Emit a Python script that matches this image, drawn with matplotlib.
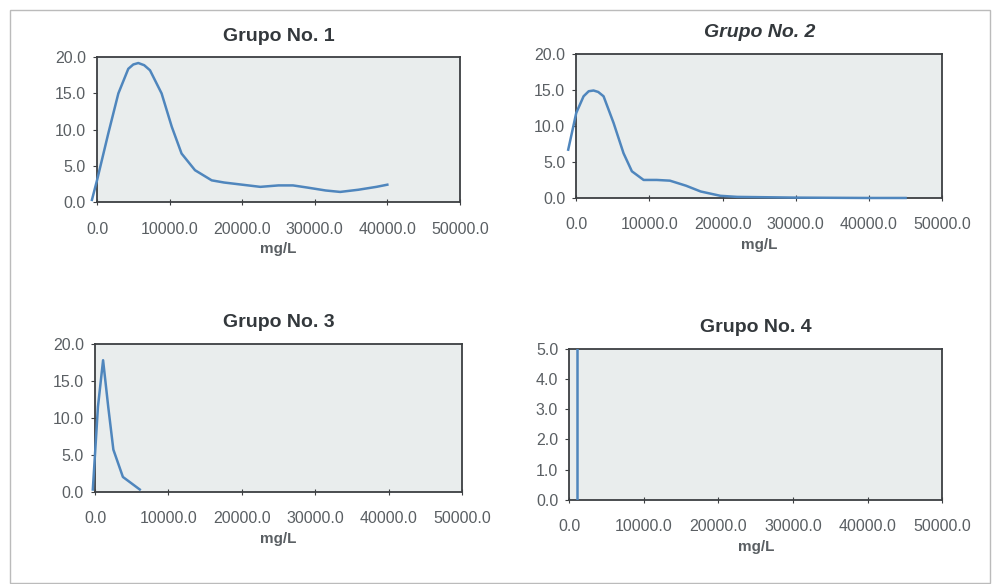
import matplotlib
matplotlib.use("Agg")
import matplotlib.pyplot as plt
from matplotlib.patches import Rectangle

plt.rcParams['font.family'] = ['Liberation Sans', 'DejaVu Sans']

# values (x in mg/L, y in %)
x1 = [-700, 0, 1560, 2940, 4310, 5000, 5690, 6500, 7300, 8900, 10300, 11650, 13500,
      15800, 17500, 20000, 22500, 25000, 27000, 29000, 31500, 33500, 36000, 38500, 40000]
y1 = [0.3, 3.0, 9.5, 15.0, 18.4, 19.0, 19.2, 18.9, 18.2, 15.0, 10.4, 6.7, 4.4,
      3.0, 2.7, 2.4, 2.1, 2.3, 2.3, 2.0, 1.6, 1.4, 1.7, 2.1, 2.4]

x2 = [-1100, 0, 1000, 1700, 2360, 3000, 3730, 5100, 6460, 7600, 9200, 11000, 12800,
      15000, 17000, 19700, 22000, 26000, 30000, 40000, 45000]
y2 = [6.7, 11.8, 14.1, 14.8, 14.9, 14.7, 14.1, 10.4, 6.2, 3.7, 2.5, 2.5, 2.4,
      1.7, 0.9, 0.3, 0.15, 0.1, 0.05, 0.0, 0.0]

x3 = [-300, 400, 1100, 1800, 2500, 3800, 6100]
y3 = [0.3, 11.5, 17.8, 11.5, 5.7, 2.0, 0.3]

x4 = [1000, 1000]
y4 = [0.0, 100.0]

titles = ["Grupo No. 1", "Grupo No. 2", "Grupo No. 3", "Grupo No. 4"]
x_ticks = [0, 10000, 20000, 30000, 40000, 50000]
y_ticks_a = [0, 5, 10, 15, 20]
y_ticks_b = [0, 1, 2, 3, 4, 5]

line_color = "#4f86bd"
face_color = "#e9eded"
text_gray = "#5a5f63"

fig = plt.figure(figsize=(9.97, 5.84), dpi=100)

# outer frame of the scanned sheet
fig.patches.append(Rectangle((10 / 997, 1 / 584), 980 / 997, 573 / 584, transform=fig.transFigure,
                             fill=False, edgecolor="#bbbbbb", linewidth=1.0))

boxes = [
    [0.0973, 0.654, 0.364, 0.248],
    [0.578, 0.661, 0.367, 0.247],
    [0.0953, 0.158, 0.368, 0.253],
    [0.571, 0.144, 0.374, 0.259],
]
data = [(x1, y1), (x2, y2), (x3, y3), (x4, y4)]

for i, (box, (xs, ys)) in enumerate(zip(boxes, data)):
    ax = fig.add_axes(box)
    ax.set_facecolor(face_color)
    ax.plot(xs, ys, color=line_color, linewidth=1.8, clip_on=(i == 3), zorder=3,
            solid_joinstyle='round')
    ax.set_xlim(0, 50000)
    if i == 3:
        ax.set_ylim(0, 5)
        ax.set_yticks(y_ticks_b)
    else:
        ax.set_ylim(0, 20)
        ax.set_yticks(y_ticks_a)
    ax.set_xticks(x_ticks)
    ax.set_xticklabels([f"{v:.1f}" for v in x_ticks])
    ax.set_yticklabels([f"{v:.1f}" for v in ax.get_yticks()])
    for spine in ax.spines.values():
        spine.set_edgecolor("#3c3f42")
        spine.set_linewidth(1.3)
    ax.tick_params(axis='x', direction='inout', length=4, pad=12, labelsize=11.5,
                   colors="#3c3f42", labelcolor=text_gray)
    ax.tick_params(axis='y', direction='out', length=3, pad=5, labelsize=11.5,
                   colors="#3c3f42", labelcolor=text_gray)
    ax.set_xlabel("mg/L", fontsize=11, fontweight='bold', color=text_gray, labelpad=4)
    ax.set_title(titles[i], fontsize=14, fontweight='bold', color="#33383c",
                 style='italic' if i == 1 else 'normal', pad=12)

fig.savefig("out.png", dpi=100)
